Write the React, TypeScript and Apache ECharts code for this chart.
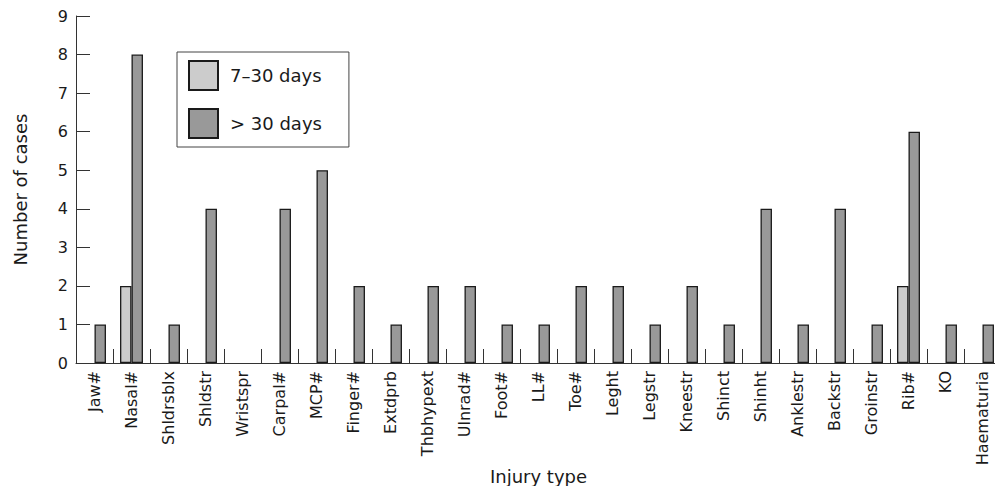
import React, { useEffect, useRef } from "react";
import * as echarts from "echarts";

const categories = [
  "Jaw#", "Nasal#", "Shldrsblx", "Shldstr", "Wristspr", "Carpal#", "MCP#", "Finger#",
  "Extdprb", "Thbhypext", "Ulnrad#", "Foot#", "LL#", "Toe#", "Leght", "Legstr",
  "Kneestr", "Shinct", "Shinht", "Anklestr", "Backstr", "Groinstr", "Rib#", "KO", "Haematuria",
];
const days7to30 = [0, 2, 0, 0, 0, 0, 0, 0, 0, 0, 0, 0, 0, 0, 0, 0, 0, 0, 0, 0, 0, 0, 2, 0, 0];
const daysOver30 = [1, 8, 1, 4, 0, 4, 5, 2, 1, 2, 2, 1, 1, 2, 2, 1, 2, 1, 4, 1, 4, 1, 6, 1, 1];
const seriesNames = ["7\u201330 days", "> 30 days"];
const yTicks = [0, 9, 1];

const FONT = "DejaVu Sans";
const TEXT = "#1a1a1a";
const LINE = "#333333";

export default function App() {
  const ref = useRef<HTMLDivElement>(null);
  useEffect(() => {
    if (!ref.current) return;
    const chart = echarts.init(ref.current, undefined, { renderer: "svg" });
    const toData = (arr: number[]) => arr.map((v) => (v === 0 ? "-" : v));
    chart.setOption({
      animation: false,
      backgroundColor: "#ffffff",
      textStyle: { fontFamily: FONT, color: TEXT },
      grid: {
        left: 76,
        top: 16,
        width: 925,
        height: 347,
        containLabel: false,
        outerBoundsMode: "none",
      },
      legend: {
        orient: "vertical",
        left: 177,
        top: 52,
        padding: [8, 27, 8, 11],
        itemWidth: 29,
        itemHeight: 29,
        itemGap: 17,
        borderColor: "#444",
        borderWidth: 1,
        backgroundColor: "#ffffff",
        icon: "rect",
        textStyle: { fontFamily: FONT, fontSize: 18, color: TEXT, padding: [0, 0, 0, 7] },
        data: seriesNames,
      },
      xAxis: {
        type: "category",
        data: categories,
        boundaryGap: true,
        name: "Injury type",
        nameLocation: "middle",
        nameGap: 104,
        nameMoveOverlap: false,
        nameTextStyle: { fontFamily: FONT, fontSize: 18, color: TEXT },
        axisLine: { show: true, lineStyle: { color: LINE, width: 1 } },
        axisTick: { show: true, inside: true, length: 14, interval: 0, lineStyle: { color: LINE, width: 1 } },
        axisLabel: { interval: 0, rotate: 90, margin: 8, fontFamily: FONT, fontSize: 16, color: TEXT },
        splitLine: { show: false },
      },
      yAxis: {
        type: "value",
        min: yTicks[0],
        max: yTicks[1],
        interval: yTicks[2],
        name: "Number of cases",
        nameLocation: "middle",
        nameGap: 47,
        nameMoveOverlap: false,
        nameTextStyle: { fontFamily: FONT, fontSize: 18, color: TEXT },
        axisLine: { show: true, lineStyle: { color: LINE, width: 1 } },
        axisTick: { show: true, inside: true, length: 14, lineStyle: { color: LINE, width: 1 } },
        axisLabel: { margin: 8, fontFamily: FONT, fontSize: 16, color: TEXT },
        splitLine: { show: false },
      },
      series: [
        {
          name: seriesNames[0],
          type: "bar",
          data: toData(days7to30),
          barGap: "0%",
          barCategoryGap: "38%",
          itemStyle: { color: "#cccccc", borderColor: "#1a1a1a", borderWidth: 1.3 },
        },
        {
          name: seriesNames[1],
          type: "bar",
          data: toData(daysOver30),
          barGap: "0%",
          barCategoryGap: "38%",
          itemStyle: { color: "#999999", borderColor: "#1a1a1a", borderWidth: 1.3 },
        },
      ],
    });
    return () => chart.dispose();
  }, []);
  return (
    <div
      ref={ref}
      style={{ position: "fixed", left: 0, top: 0, width: 995, height: 486, background: "#fff" }}
    />
  );
}
